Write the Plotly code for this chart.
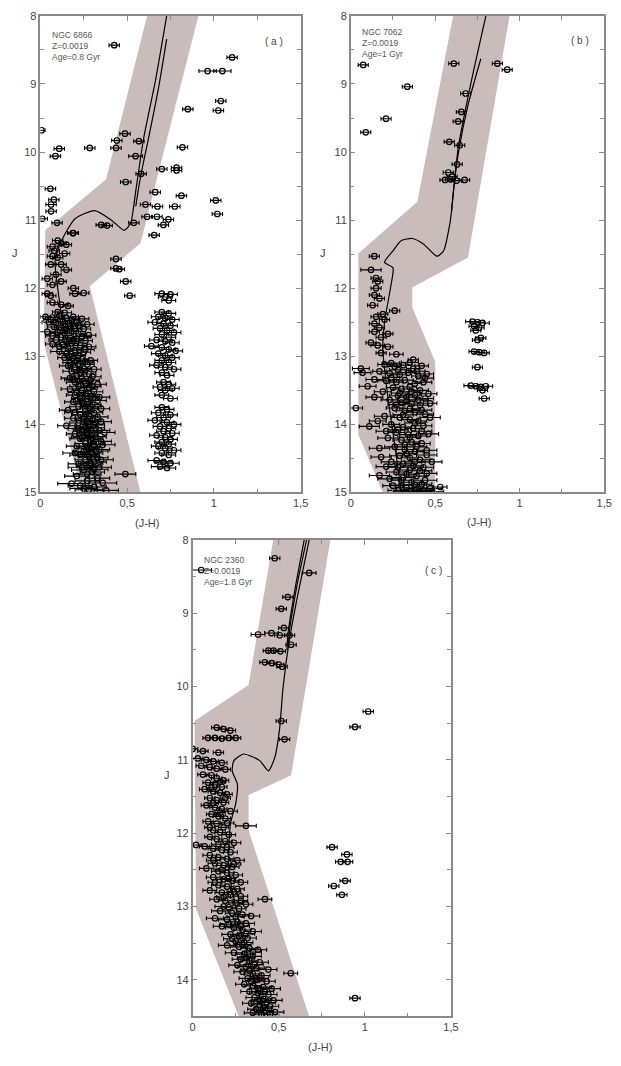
import plotly.graph_objects as go

# ---------------- NGC 6866 (a) ----------------
# (J-H, J, sigma(J-H))
a_field = [
    (0.426, 8.43, 0.03), (1.105, 8.61, 0.03), (0.964, 8.81, 0.05), (1.049, 8.81, 0.05),
    (1.040, 9.25, 0.03), (0.850, 9.37, 0.03), (1.026, 9.39, 0.03), (0.007, 9.68, 0.02),
    (0.488, 9.73, 0.03), (0.441, 9.83, 0.03), (0.568, 9.84, 0.03), (0.819, 9.93, 0.03),
    (0.285, 9.94, 0.03), (0.436, 9.94, 0.03), (0.109, 9.95, 0.03), (0.087, 10.06, 0.03),
    (0.549, 10.06, 0.04), (0.785, 10.23, 0.03), (0.785, 10.27, 0.03), (0.700, 10.25, 0.03),
    (0.581, 10.32, 0.03), (0.492, 10.44, 0.03), (0.058, 10.54, 0.03), (0.662, 10.59, 0.03),
    (0.813, 10.64, 0.03), (1.011, 10.71, 0.03), (0.078, 10.70, 0.03), (0.062, 10.77, 0.03),
    (0.062, 10.87, 0.03), (0.606, 10.77, 0.03), (0.675, 10.80, 0.03), (0.775, 10.80, 0.03),
    (1.020, 10.91, 0.03), (0.011, 10.98, 0.03), (0.096, 11.04, 0.03), (0.351, 11.07, 0.03),
    (0.385, 11.08, 0.03), (0.539, 11.04, 0.03), (0.615, 10.95, 0.03), (0.672, 10.95, 0.03),
    (0.738, 10.99, 0.03), (0.709, 11.07, 0.03), (0.656, 11.22, 0.03), (0.187, 11.19, 0.03),
    (0.436, 11.57, 0.03), (0.436, 11.71, 0.03), (0.455, 11.72, 0.03), (0.492, 11.90, 0.03),
    (0.515, 12.11, 0.03),
]

a_clump = [
    (0.70, 12.08, 0.04), (0.75, 12.09, 0.04), (0.72, 12.13, 0.04), (0.74, 12.18, 0.04),
    (0.70, 12.35, 0.04), (0.74, 12.37, 0.04), (0.68, 12.42, 0.04), (0.72, 12.44, 0.04),
    (0.76, 12.46, 0.04), (0.66, 12.50, 0.04), (0.71, 12.52, 0.04), (0.75, 12.55, 0.04),
    (0.69, 12.59, 0.04), (0.73, 12.62, 0.04), (0.77, 12.65, 0.04), (0.70, 12.68, 0.04),
    (0.74, 12.72, 0.04), (0.67, 12.76, 0.04), (0.72, 12.78, 0.04), (0.76, 12.80, 0.04),
    (0.64, 12.85, 0.04), (0.70, 12.87, 0.04), (0.74, 12.90, 0.04), (0.78, 12.92, 0.04),
    (0.68, 12.96, 0.04), (0.72, 12.99, 0.04), (0.76, 13.02, 0.04), (0.70, 13.06, 0.04),
    (0.74, 13.09, 0.04), (0.67, 13.13, 0.04), (0.72, 13.16, 0.04), (0.77, 13.19, 0.04),
    (0.70, 13.24, 0.04), (0.73, 13.28, 0.04), (0.71, 13.38, 0.04), (0.74, 13.41, 0.04),
    (0.69, 13.45, 0.04), (0.76, 13.47, 0.04), (0.72, 13.50, 0.04), (0.70, 13.57, 0.04),
    (0.75, 13.62, 0.04), (0.70, 13.75, 0.04), (0.73, 13.78, 0.04), (0.68, 13.83, 0.04),
    (0.75, 13.86, 0.04), (0.71, 13.90, 0.04), (0.66, 13.94, 0.04), (0.73, 13.97, 0.04),
    (0.77, 14.00, 0.04), (0.69, 14.03, 0.04), (0.74, 14.06, 0.04), (0.71, 14.10, 0.04),
    (0.76, 14.13, 0.04), (0.67, 14.16, 0.04), (0.72, 14.19, 0.04), (0.75, 14.22, 0.04),
    (0.70, 14.26, 0.04), (0.74, 14.29, 0.04), (0.68, 14.32, 0.04), (0.72, 14.35, 0.04),
    (0.77, 14.38, 0.04), (0.70, 14.42, 0.04), (0.74, 14.45, 0.04), (0.67, 14.53, 0.05),
    (0.71, 14.55, 0.05), (0.75, 14.57, 0.05), (0.69, 14.62, 0.05), (0.73, 14.64, 0.05),
]

a_ms = [
    (0.19, 11.19, 0.03), (0.12, 11.34, 0.03), (0.15, 11.36, 0.03), (0.07, 11.39, 0.03),
    (0.10, 11.30, 0.03), (0.08, 11.45, 0.03), (0.14, 11.49, 0.03), (0.07, 11.53, 0.03),
    (0.10, 11.55, 0.03), (0.06, 11.65, 0.03), (0.12, 11.65, 0.03), (0.15, 11.73, 0.03),
    (0.09, 11.80, 0.03), (0.04, 11.86, 0.03), (0.12, 11.90, 0.03), (0.07, 11.95, 0.03),
    (0.19, 12.00, 0.03), (0.25, 12.07, 0.03), (0.20, 12.08, 0.03), (0.04, 12.08, 0.03),
    (0.06, 12.11, 0.03), (0.07, 12.21, 0.03), (0.12, 12.24, 0.04), (0.16, 12.26, 0.03),
    (0.10, 12.35, 0.03), (0.14, 12.36, 0.04),
    (0.03, 12.42, 0.03), (0.07, 12.43, 0.04), (0.11, 12.41, 0.03), (0.15, 12.44, 0.04),
    (0.19, 12.42, 0.03), (0.24, 12.45, 0.04), (0.05, 12.50, 0.04), (0.09, 12.51, 0.03),
    (0.13, 12.49, 0.04), (0.17, 12.52, 0.04), (0.21, 12.50, 0.03), (0.27, 12.53, 0.04),
    (0.08, 12.57, 0.04), (0.12, 12.58, 0.04), (0.16, 12.56, 0.03), (0.20, 12.59, 0.04),
    (0.25, 12.60, 0.04),
    (0.04, 12.64, 0.05), (0.10, 12.65, 0.04), (0.14, 12.66, 0.04), (0.18, 12.63, 0.04),
    (0.22, 12.67, 0.04), (0.28, 12.69, 0.04), (0.12, 12.72, 0.04), (0.17, 12.73, 0.04),
    (0.21, 12.74, 0.04), (0.09, 12.76, 0.04), (0.26, 12.77, 0.04), (0.15, 12.79, 0.04),
    (0.07, 12.82, 0.04), (0.13, 12.83, 0.04), (0.18, 12.81, 0.04), (0.23, 12.84, 0.04),
    (0.28, 12.86, 0.04), (0.16, 12.89, 0.04), (0.20, 12.91, 0.04), (0.11, 12.93, 0.05),
    (0.25, 12.94, 0.04), (0.18, 12.97, 0.04), (0.22, 12.99, 0.04),
    (0.14, 13.02, 0.04), (0.19, 13.03, 0.04), (0.24, 13.04, 0.04), (0.29, 13.06, 0.04),
    (0.17, 13.09, 0.04), (0.22, 13.11, 0.04), (0.27, 13.12, 0.04), (0.20, 13.16, 0.04),
    (0.25, 13.18, 0.04), (0.31, 13.19, 0.04), (0.18, 13.22, 0.05), (0.23, 13.24, 0.04),
    (0.28, 13.26, 0.04), (0.21, 13.29, 0.04),
    (0.17, 13.32, 0.05), (0.24, 13.33, 0.04), (0.29, 13.35, 0.05), (0.20, 13.38, 0.05),
    (0.26, 13.40, 0.04), (0.33, 13.41, 0.05), (0.22, 13.44, 0.05), (0.28, 13.46, 0.05),
    (0.17, 13.48, 0.05), (0.24, 13.50, 0.05), (0.31, 13.52, 0.05), (0.26, 13.55, 0.05),
    (0.20, 13.57, 0.05), (0.29, 13.59, 0.05),
    (0.23, 13.62, 0.05), (0.27, 13.63, 0.05), (0.33, 13.65, 0.05), (0.19, 13.67, 0.05),
    (0.25, 13.69, 0.05), (0.30, 13.71, 0.05), (0.22, 13.74, 0.05), (0.28, 13.76, 0.05),
    (0.35, 13.77, 0.05), (0.16, 13.79, 0.05), (0.26, 13.81, 0.05), (0.31, 13.83, 0.05),
    (0.23, 13.86, 0.05), (0.28, 13.88, 0.05),
    (0.19, 13.91, 0.05), (0.25, 13.92, 0.05), (0.30, 13.94, 0.05), (0.35, 13.96, 0.06),
    (0.22, 13.98, 0.05), (0.28, 14.00, 0.05), (0.15, 14.02, 0.05), (0.26, 14.04, 0.06),
    (0.32, 14.05, 0.05), (0.24, 14.08, 0.05), (0.29, 14.10, 0.06), (0.37, 14.12, 0.06),
    (0.20, 14.14, 0.05), (0.27, 14.16, 0.06), (0.32, 14.18, 0.06),
    (0.23, 14.21, 0.06), (0.29, 14.23, 0.06), (0.35, 14.25, 0.06), (0.26, 14.28, 0.06),
    (0.31, 14.30, 0.06), (0.21, 14.32, 0.06), (0.28, 14.35, 0.06), (0.34, 14.37, 0.06),
    (0.25, 14.40, 0.06), (0.30, 14.42, 0.06), (0.23, 14.45, 0.06), (0.28, 14.47, 0.06),
    (0.33, 14.49, 0.06),
    (0.26, 14.52, 0.06), (0.31, 14.55, 0.07), (0.22, 14.58, 0.06), (0.28, 14.61, 0.07),
    (0.34, 14.63, 0.07), (0.25, 14.67, 0.07), (0.30, 14.70, 0.07), (0.49, 14.73, 0.06),
    (0.21, 14.76, 0.07), (0.33, 14.79, 0.07), (0.27, 14.83, 0.07), (0.18, 14.87, 0.08),
    (0.23, 14.90, 0.07), (0.31, 14.92, 0.07), (0.38, 14.97, 0.07), (0.28, 14.96, 0.08),
]

a_ms_more = [
    (0.06, 12.46, 0.04), (0.18, 12.47, 0.04), (0.22, 12.55, 0.04), (0.14, 12.61, 0.04),
    (0.07, 12.70, 0.04), (0.24, 12.71, 0.05), (0.19, 12.78, 0.04), (0.11, 12.86, 0.04),
    (0.26, 12.90, 0.05), (0.15, 12.96, 0.04), (0.21, 13.06, 0.05), (0.26, 13.08, 0.05),
    (0.16, 13.14, 0.05), (0.23, 13.20, 0.05), (0.30, 13.30, 0.05), (0.19, 13.34, 0.05),
    (0.25, 13.37, 0.05), (0.30, 13.44, 0.05), (0.21, 13.53, 0.05), (0.27, 13.58, 0.05),
    (0.34, 13.60, 0.06), (0.24, 13.66, 0.05), (0.29, 13.74, 0.06), (0.20, 13.82, 0.06),
    (0.33, 13.89, 0.06), (0.27, 13.95, 0.06), (0.31, 14.01, 0.06), (0.22, 14.06, 0.06),
    (0.34, 14.09, 0.06), (0.27, 14.12, 0.06), (0.24, 14.19, 0.06), (0.30, 14.20, 0.06),
    (0.36, 14.30, 0.07), (0.27, 14.33, 0.06), (0.32, 14.39, 0.07), (0.20, 14.42, 0.07),
    (0.27, 14.44, 0.07), (0.35, 14.52, 0.07), (0.29, 14.57, 0.07), (0.24, 14.63, 0.08),
    (0.31, 14.66, 0.08), (0.27, 14.73, 0.08), (0.36, 14.86, 0.08), (0.25, 14.94, 0.08),
]

a_band_jh = [0.615, 0.379, 0.028, 0.020, 0.240, 0.577, 0.285, 0.577, 0.911]
a_band_j = [8.0, 10.40, 11.15, 12.80, 15.0, 15.0, 11.97, 11.34, 8.0]

a_iso_jh = [0.33, 0.29, 0.26, 0.22, 0.17, 0.13, 0.10, 0.085, 0.115, 0.20, 0.313,
            0.41, 0.483, 0.52, 0.54, 0.55, 0.596, 0.662, 0.728]
a_iso_j = [15.0, 14.5, 14.0, 13.5, 13.0, 12.5, 12.0, 11.6, 11.34, 10.98, 10.86,
           11.0, 11.15, 11.05, 10.76, 10.57, 9.79, 8.97, 8.0]
a_loop_jh = [0.728, 0.681, 0.624, 0.577, 0.558, 0.55]
a_loop_j = [8.34, 9.06, 9.79, 10.37, 10.66, 10.8]

# ---------------- NGC 7062 (b) ----------------
b_field = [
    (0.074, 8.72, 0.03), (0.610, 8.70, 0.03), (0.868, 8.70, 0.03), (0.926, 8.79, 0.03),
    (0.335, 9.04, 0.03), (0.680, 9.14, 0.03), (0.209, 9.51, 0.03), (0.655, 9.41, 0.03),
    (0.636, 9.55, 0.03), (0.089, 9.71, 0.03), (0.583, 9.85, 0.03), (0.645, 9.90, 0.03),
    (0.630, 10.18, 0.03), (0.577, 10.30, 0.03), (0.558, 10.41, 0.03), (0.590, 10.40, 0.03),
    (0.626, 10.42, 0.03), (0.674, 10.41, 0.03), (0.600, 10.36, 0.03),
]

b_clump = [
    (0.72, 12.49, 0.04), (0.75, 12.50, 0.04), (0.78, 12.51, 0.04), (0.73, 12.56, 0.03),
    (0.76, 12.58, 0.03), (0.74, 12.62, 0.03), (0.77, 12.73, 0.03), (0.75, 12.76, 0.03),
    (0.73, 12.93, 0.03), (0.76, 12.94, 0.03), (0.79, 12.95, 0.03), (0.75, 13.16, 0.03),
    (0.71, 13.43, 0.04), (0.74, 13.44, 0.04), (0.77, 13.45, 0.04), (0.80, 13.44, 0.04),
    (0.78, 13.50, 0.03), (0.79, 13.62, 0.03),
]

b_ms = [
    (0.14, 11.53, 0.03), (0.12, 11.73, 0.06), (0.15, 11.85, 0.03), (0.16, 11.90, 0.03),
    (0.15, 12.00, 0.03), (0.14, 12.10, 0.03), (0.17, 12.15, 0.03), (0.13, 12.25, 0.03),
    (0.26, 12.33, 0.03), (0.19, 12.38, 0.03), (0.15, 12.42, 0.03), (0.20, 12.46, 0.03),
    (0.14, 12.52, 0.03), (0.17, 12.58, 0.03), (0.14, 12.64, 0.03), (0.22, 12.67, 0.03),
    (0.18, 12.72, 0.03), (0.12, 12.80, 0.03), (0.16, 12.84, 0.04), (0.22, 12.86, 0.03),
    (0.18, 12.95, 0.03), (0.27, 12.97, 0.04), (0.37, 13.05, 0.03),
    (0.06, 13.18, 0.05), (0.07, 13.24, 0.05), (0.20, 13.12, 0.04), (0.26, 13.15, 0.04),
    (0.31, 13.13, 0.05), (0.37, 13.18, 0.04), (0.42, 13.14, 0.04), (0.17, 13.22, 0.04),
    (0.23, 13.25, 0.05), (0.29, 13.27, 0.04), (0.34, 13.24, 0.05), (0.40, 13.29, 0.04),
    (0.45, 13.26, 0.04), (0.14, 13.34, 0.05), (0.21, 13.36, 0.05), (0.27, 13.38, 0.04),
    (0.32, 13.35, 0.05), (0.38, 13.40, 0.04), (0.43, 13.38, 0.05), (0.25, 13.46, 0.04),
    (0.30, 13.48, 0.05), (0.35, 13.45, 0.04), (0.41, 13.50, 0.05), (0.19, 13.52, 0.05),
    (0.03, 13.76, 0.04), (0.28, 13.58, 0.05), (0.33, 13.60, 0.05), (0.38, 13.57, 0.04),
    (0.44, 13.62, 0.05), (0.23, 13.64, 0.05), (0.30, 13.68, 0.05), (0.36, 13.70, 0.05),
    (0.41, 13.72, 0.05), (0.47, 13.69, 0.04), (0.26, 13.76, 0.05), (0.32, 13.80, 0.05),
    (0.38, 13.82, 0.05), (0.44, 13.85, 0.05), (0.20, 13.88, 0.06), (0.29, 13.90, 0.05),
    (0.35, 13.93, 0.05), (0.40, 13.95, 0.05),
    (0.11, 14.03, 0.06), (0.24, 14.00, 0.05), (0.31, 14.04, 0.05), (0.37, 14.06, 0.05),
    (0.43, 14.02, 0.05), (0.27, 14.12, 0.05), (0.34, 14.15, 0.05), (0.40, 14.17, 0.05),
    (0.46, 14.14, 0.06), (0.22, 14.20, 0.06), (0.30, 14.23, 0.05), (0.36, 14.26, 0.05),
    (0.42, 14.28, 0.05), (0.17, 14.35, 0.06), (0.26, 14.33, 0.06), (0.32, 14.37, 0.05),
    (0.38, 14.40, 0.05), (0.45, 14.38, 0.06), (0.29, 14.46, 0.06), (0.35, 14.49, 0.05),
    (0.41, 14.52, 0.06), (0.48, 14.55, 0.06), (0.24, 14.55, 0.06), (0.31, 14.58, 0.05),
    (0.37, 14.61, 0.06), (0.43, 14.63, 0.06),
    (0.17, 14.75, 0.06), (0.27, 14.70, 0.06), (0.33, 14.73, 0.06), (0.39, 14.76, 0.06),
    (0.45, 14.72, 0.06), (0.30, 14.82, 0.06), (0.36, 14.85, 0.06), (0.42, 14.88, 0.06),
    (0.25, 14.90, 0.06), (0.33, 14.93, 0.06), (0.39, 14.95, 0.06), (0.47, 14.94, 0.07),
    (0.28, 14.97, 0.06), (0.36, 14.98, 0.06), (0.43, 14.97, 0.07), (0.53, 14.92, 0.04),
]

b_ms_more = [
    (0.24, 13.10, 0.05), (0.35, 13.09, 0.05), (0.28, 13.20, 0.05), (0.39, 13.22, 0.05),
    (0.44, 13.32, 0.05), (0.24, 13.31, 0.05), (0.36, 13.52, 0.05), (0.29, 13.54, 0.05),
    (0.46, 13.55, 0.05), (0.33, 13.66, 0.05), (0.40, 13.64, 0.06), (0.27, 13.71, 0.05),
    (0.35, 13.77, 0.06), (0.42, 13.79, 0.06), (0.31, 13.86, 0.06), (0.47, 13.90, 0.06),
    (0.38, 13.98, 0.06), (0.28, 14.08, 0.06), (0.42, 14.10, 0.06), (0.35, 14.19, 0.06),
    (0.32, 14.30, 0.06), (0.39, 14.33, 0.06), (0.45, 14.45, 0.06), (0.33, 14.43, 0.06),
    (0.38, 14.55, 0.06), (0.28, 14.63, 0.06), (0.41, 14.68, 0.07), (0.35, 14.67, 0.06),
    (0.31, 14.78, 0.07), (0.44, 14.82, 0.07), (0.38, 14.89, 0.07), (0.30, 14.89, 0.07),
    (0.41, 14.99, 0.07), (0.32, 14.99, 0.07), (0.48, 14.99, 0.07), (0.23, 14.80, 0.07),
    (0.21, 14.62, 0.06), (0.18, 14.48, 0.06), (0.21, 14.10, 0.06), (0.16, 13.95, 0.05),
    (0.14, 13.60, 0.05), (0.10, 13.44, 0.05),
]

b_band_jh = [0.606, 0.394, 0.045, 0.045, 0.190, 0.500, 0.500, 0.364, 0.364, 0.694, 0.940]
b_band_j = [8.0, 10.73, 11.49, 14.15, 15.0, 15.0, 13.08, 12.28, 11.99, 11.55, 8.0]

b_iso_jh = [0.30, 0.26, 0.22, 0.19, 0.20, 0.235, 0.25, 0.20, 0.25, 0.30, 0.364,
            0.43, 0.51, 0.55, 0.587, 0.597, 0.636, 0.713, 0.80]
b_iso_j = [15.0, 14.3, 13.6, 12.9, 12.5, 12.0, 11.7, 11.62, 11.45, 11.3, 11.27,
           11.35, 11.53, 11.45, 11.05, 10.86, 9.94, 8.97, 8.0]
b_loop_jh = [0.77, 0.694, 0.636, 0.606, 0.597]
b_loop_j = [8.63, 9.31, 10.03, 10.61, 10.86]

# ---------------- NGC 2360 (c) ----------------
c_field = [
    (0.477, 8.25, 0.03), (0.677, 8.45, 0.04), (0.050, 8.41, 0.06), (0.553, 8.78, 0.03),
    (0.515, 8.94, 0.03), (0.530, 9.20, 0.03), (0.380, 9.29, 0.04), (0.458, 9.27, 0.04),
    (0.506, 9.30, 0.03), (0.563, 9.30, 0.03), (0.572, 9.43, 0.03), (0.440, 9.51, 0.03),
    (0.470, 9.51, 0.03), (0.510, 9.52, 0.03), (0.420, 9.67, 0.03), (0.460, 9.68, 0.03),
    (0.500, 9.70, 0.03), (0.520, 9.73, 0.03), (0.515, 10.47, 0.03), (0.534, 10.72, 0.03),
    (1.020, 10.34, 0.03), (0.943, 10.55, 0.03),
]

c_giants = [
    (0.810, 12.19, 0.03), (0.896, 12.29, 0.03), (0.860, 12.39, 0.03), (0.900, 12.39, 0.03),
    (0.886, 12.65, 0.03), (0.820, 12.72, 0.03), (0.867, 12.84, 0.03), (0.943, 14.25, 0.03),
]

c_ms = [
    (0.14, 10.56, 0.03), (0.18, 10.58, 0.03), (0.22, 10.60, 0.03), (0.09, 10.70, 0.03),
    (0.13, 10.70, 0.03), (0.17, 10.71, 0.03), (0.21, 10.70, 0.03), (0.25, 10.70, 0.03),
    (0.00, 10.85, 0.03), (0.06, 10.88, 0.03), (0.15, 10.90, 0.03), (0.03, 10.98, 0.03),
    (0.08, 11.00, 0.03), (0.12, 11.02, 0.03), (0.17, 11.04, 0.03), (0.05, 11.08, 0.03),
    (0.10, 11.10, 0.03), (0.14, 11.12, 0.03), (0.19, 11.13, 0.03), (0.06, 11.20, 0.03),
    (0.11, 11.21, 0.03),
    (0.14, 11.25, 0.03), (0.18, 11.28, 0.03), (0.09, 11.31, 0.03), (0.13, 11.34, 0.03),
    (0.17, 11.37, 0.03), (0.07, 11.40, 0.03), (0.12, 11.43, 0.03), (0.16, 11.45, 0.03),
    (0.20, 11.47, 0.03), (0.10, 11.52, 0.03), (0.14, 11.55, 0.03), (0.18, 11.58, 0.03),
    (0.08, 11.62, 0.03), (0.13, 11.65, 0.03), (0.17, 11.67, 0.03), (0.22, 11.70, 0.04),
    (0.11, 11.74, 0.03), (0.15, 11.77, 0.03), (0.19, 11.80, 0.03), (0.09, 11.84, 0.03),
    (0.14, 11.87, 0.03), (0.31, 11.90, 0.06), (0.18, 11.92, 0.03), (0.12, 11.96, 0.03),
    (0.16, 11.99, 0.03), (0.21, 12.02, 0.04), (0.02, 12.16, 0.03), (0.10, 12.05, 0.03),
    (0.14, 12.08, 0.03), (0.19, 12.11, 0.04), (0.24, 12.13, 0.04), (0.07, 12.18, 0.03),
    (0.12, 12.21, 0.03), (0.17, 12.23, 0.04), (0.22, 12.26, 0.04), (0.10, 12.30, 0.04),
    (0.15, 12.33, 0.04), (0.20, 12.35, 0.04), (0.26, 12.37, 0.04), (0.13, 12.41, 0.04),
    (0.18, 12.44, 0.04), (0.23, 12.46, 0.04), (0.08, 12.48, 0.04),
    (0.15, 12.52, 0.04), (0.20, 12.54, 0.04), (0.25, 12.57, 0.04), (0.12, 12.60, 0.04),
    (0.18, 12.63, 0.04), (0.23, 12.65, 0.04), (0.28, 12.67, 0.04), (0.15, 12.71, 0.04),
    (0.20, 12.73, 0.04), (0.26, 12.76, 0.04), (0.10, 12.78, 0.04), (0.17, 12.81, 0.04),
    (0.22, 12.84, 0.04), (0.28, 12.86, 0.04), (0.42, 12.90, 0.04), (0.14, 12.90, 0.04),
    (0.19, 12.92, 0.04), (0.25, 12.95, 0.04), (0.31, 12.97, 0.04), (0.21, 13.01, 0.04),
    (0.27, 13.03, 0.04), (0.16, 13.06, 0.05), (0.23, 13.09, 0.04), (0.29, 13.11, 0.04),
    (0.34, 13.13, 0.05), (0.13, 13.16, 0.05), (0.20, 13.18, 0.05), (0.26, 13.21, 0.04),
    (0.31, 13.23, 0.05), (0.17, 13.27, 0.05), (0.24, 13.29, 0.05), (0.29, 13.32, 0.05),
    (0.35, 13.34, 0.05), (0.22, 13.38, 0.05), (0.27, 13.40, 0.05), (0.32, 13.43, 0.05),
    (0.25, 13.47, 0.05), (0.30, 13.49, 0.05),
    (0.20, 13.53, 0.05), (0.27, 13.55, 0.05), (0.33, 13.57, 0.05), (0.38, 13.59, 0.05),
    (0.24, 13.63, 0.05), (0.30, 13.65, 0.05), (0.35, 13.68, 0.05), (0.28, 13.72, 0.05),
    (0.33, 13.74, 0.05), (0.39, 13.76, 0.05), (0.26, 13.80, 0.05), (0.31, 13.82, 0.05),
    (0.37, 13.84, 0.05), (0.44, 13.86, 0.05), (0.29, 13.89, 0.05), (0.57, 13.91, 0.04),
    (0.35, 13.92, 0.05), (0.40, 13.94, 0.05), (0.32, 13.98, 0.05), (0.37, 14.00, 0.05),
    (0.43, 14.02, 0.05), (0.30, 14.06, 0.05), (0.35, 14.08, 0.05), (0.41, 14.10, 0.05),
    (0.46, 14.12, 0.05), (0.33, 14.16, 0.05), (0.38, 14.18, 0.05), (0.44, 14.20, 0.05),
    (0.36, 14.24, 0.05), (0.41, 14.26, 0.05), (0.47, 14.28, 0.05), (0.34, 14.32, 0.05),
    (0.39, 14.34, 0.05), (0.45, 14.36, 0.05), (0.37, 14.40, 0.05), (0.42, 14.42, 0.05),
    (0.48, 14.44, 0.05), (0.40, 14.47, 0.05),
]

c_ms_more = [
    (0.16, 11.30, 0.03), (0.11, 11.38, 0.03), (0.19, 11.52, 0.03), (0.12, 11.59, 0.03),
    (0.16, 11.72, 0.03), (0.20, 11.86, 0.04), (0.10, 11.92, 0.03), (0.15, 12.15, 0.04),
    (0.20, 12.19, 0.04), (0.12, 12.37, 0.04), (0.24, 12.42, 0.04), (0.17, 12.50, 0.04),
    (0.21, 12.62, 0.04), (0.13, 12.67, 0.04), (0.24, 12.80, 0.04), (0.18, 12.87, 0.04),
    (0.28, 12.92, 0.04), (0.18, 13.00, 0.05), (0.25, 13.14, 0.05), (0.21, 13.24, 0.05),
    (0.28, 13.27, 0.05), (0.31, 13.37, 0.05), (0.23, 13.44, 0.05), (0.29, 13.52, 0.05),
    (0.35, 13.62, 0.05), (0.31, 13.70, 0.05), (0.36, 13.79, 0.05), (0.33, 13.87, 0.05),
    (0.39, 13.98, 0.05), (0.34, 14.02, 0.05), (0.38, 14.12, 0.05), (0.42, 14.16, 0.05),
    (0.39, 14.29, 0.05), (0.43, 14.31, 0.05), (0.41, 14.38, 0.05), (0.45, 14.47, 0.05),
    (0.35, 14.45, 0.05),
]

c_band_jh = [0.468, 0.325, 0.011, 0.020, 0.268, 0.677, 0.325, 0.325, 0.572, 0.800]
c_band_j = [8.0, 9.98, 10.47, 13.03, 14.5, 14.5, 11.96, 11.48, 11.21, 8.0]

c_iso_jh = [0.42, 0.36, 0.30, 0.25, 0.21, 0.22, 0.25, 0.26, 0.23, 0.24, 0.297,
            0.39, 0.44, 0.477, 0.506, 0.525, 0.563, 0.61, 0.677]
c_iso_j = [14.5, 14.0, 13.5, 13.0, 12.5, 11.87, 11.6, 11.33, 11.15, 11.01, 10.92,
           11.01, 11.15, 10.97, 10.56, 10.02, 9.35, 8.76, 8.0]
c_loop1_jh = [0.648, 0.600, 0.568, 0.553, 0.548]
c_loop1_j = [8.0, 8.60, 9.05, 9.30, 9.50]
c_loop2_jh = [0.662, 0.612, 0.578, 0.562, 0.556]
c_loop2_j = [8.0, 8.55, 9.00, 9.25, 9.45]

x_ticks = [0, 0.5, 1, 1.5]
x_tick_text = ["0", "0,5", "1", "1,5"]

BAND = "rgb(203,188,188)"
AXIS = "#8a8a8a"
TEXT = "#444444"

panels = [
    dict(xa="x", ya="y", stars=a_field + a_clump + a_ms + a_ms_more,
         band=(a_band_jh, a_band_j),
         lines=[(a_iso_jh, a_iso_j), (a_loop_jh, a_loop_j)],
         xdom=[38 / 621, 303 / 621], ydom=[1 - 492 / 1066, 1 - 10 / 1066],
         yr=[15, 8], yticks=list(range(8, 16))),
    dict(xa="x2", ya="y2", stars=b_field + b_clump + b_ms + b_ms_more,
         band=(b_band_jh, b_band_j),
         lines=[(b_iso_jh, b_iso_j), (b_loop_jh, b_loop_j)],
         xdom=[354 / 621, 612 / 621], ydom=[1 - 492 / 1066, 1 - 10 / 1066],
         yr=[15, 8], yticks=list(range(8, 16))),
    dict(xa="x3", ya="y3", stars=c_field + c_giants + c_ms + c_ms_more,
         band=(c_band_jh, c_band_j),
         lines=[(c_iso_jh, c_iso_j), (c_loop1_jh, c_loop1_j), (c_loop2_jh, c_loop2_j)],
         xdom=[193 / 621, 456 / 621], ydom=[1 - 1022 / 1066, 1 - 540 / 1066],
         yr=[14.5, 8], yticks=list(range(8, 15))),
]

fig = go.Figure()
layout = dict(
    width=621, height=1066, margin=dict(l=0, r=0, t=0, b=0),
    paper_bgcolor="white", plot_bgcolor="white", showlegend=False,
    font=dict(family="Liberation Sans, Arial, sans-serif", color=TEXT, size=11),
)

for i, p in enumerate(panels):
    bx, by = p["band"]
    fig.add_trace(go.Scatter(x=bx + [bx[0]], y=by + [by[0]], mode="lines", fill="toself",
                             fillcolor=BAND, line=dict(width=0, color=BAND),
                             xaxis=p["xa"], yaxis=p["ya"], hoverinfo="skip"))
    stars = p["stars"]
    fig.add_trace(go.Scatter(
        x=[s[0] for s in stars], y=[s[1] for s in stars], mode="markers",
        marker=dict(symbol="circle-open", size=5.5, color="black", line=dict(width=1.2)),
        error_x=dict(type="data", array=[s[2] for s in stars], visible=True,
                     color="black", thickness=1.1, width=2),
        xaxis=p["xa"], yaxis=p["ya"]))
    for lx, ly in p["lines"]:
        fig.add_trace(go.Scatter(x=lx, y=ly, mode="lines",
                                 line=dict(color="black", width=1.2, shape="spline", smoothing=0.6),
                                 xaxis=p["xa"], yaxis=p["ya"], hoverinfo="skip"))

    suffix = "" if i == 0 else str(i + 1)
    common = dict(showline=True, linecolor=AXIS, linewidth=1.5, mirror="ticks",
                  ticks="inside", ticklen=5, tickcolor=AXIS, tickwidth=1,
                  showgrid=False, zeroline=False,
                  tickfont=dict(size=11, color=TEXT))
    layout["xaxis" + suffix] = dict(
        domain=p["xdom"], range=[0, 1.5], anchor="y" + suffix,
        tickvals=x_ticks, ticktext=x_tick_text,
        minor=dict(dtick=0.25, tick0=0, ticks="inside", ticklen=4, tickcolor=AXIS),
        **common)
    layout["yaxis" + suffix] = dict(
        domain=p["ydom"], range=p["yr"], anchor="x" + suffix,
        tickvals=p["yticks"], ticktext=[str(v) for v in p["yticks"]],
        minor=dict(dtick=0.5, tick0=0, ticks="inside", ticklen=4, tickcolor=AXIS),
        **common)

fig.update_layout(**layout)

# cluster captions, panel letters and axis titles
captions = [
    (48, 40, "NGC 6866<br>Z=0.0019<br>Age=0.8 Gyr"),
    (363, 37, "NGC 7062<br>Z=0.0019<br>Age=1 Gyr"),
    (203, 571, "NGC 2360<br>Z=0.0019<br>Age=1.8 Gyr"),
]
for x, y, t in captions:
    fig.add_annotation(x=x / 621, y=1 - y / 1066, xref="paper", yref="paper", text=t,
                       showarrow=False, xanchor="left", yanchor="middle", align="left",
                       font=dict(size=8.5, color="#555555"))
for x, y, t, s in [(276, 36, "( a )", 10), (587, 35, "( b )", 10), (438, 571, "( c )", 10),
                   (12, 250, "J", 11), (326, 250, "J", 11), (167, 778, "J", 11),
                   (147, 523, "(J-H)", 11), (485, 522, "(J-H)", 11), (323, 1053, "(J-H)", 11)]:
    fig.add_annotation(x=x / 621, y=1 - y / 1066, xref="paper", yref="paper", text=t,
                       showarrow=False, xanchor="center", yanchor="middle",
                       font=dict(size=s, color=TEXT))

fig.write_html("out.html")
